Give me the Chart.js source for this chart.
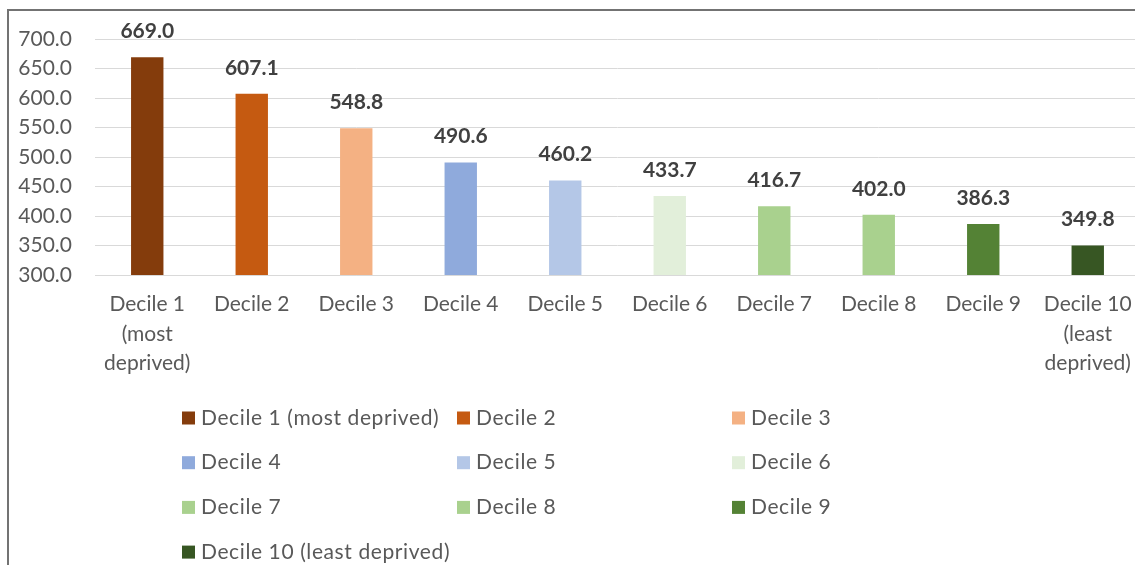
<!DOCTYPE html>
<html>
<head>
<meta charset="utf-8">
<script src="https://cdn.jsdelivr.net/npm/chart.js@4/dist/chart.umd.min.js"></script>
<style>
  html, body { margin: 0; padding: 0; background: #fff; overflow: hidden; }
  #wrap { position: relative; width: 1135px; height: 565px; overflow: hidden; }
  #frame { position: absolute; left: 7px; top: 9px; width: 1200px; height: 600px; border: 2px solid #737373; }
  #chartCanvas { position: absolute; left: 0; top: 0; }
</style>
</head>
<body>
<div id="wrap">
  <div id="frame"></div>
  <canvas id="chartCanvas" width="1150" height="565"></canvas>
</div>
<script>
const categories = [
    ['Decile 1', '(most', 'deprived)'],
    'Decile 2', 'Decile 3', 'Decile 4', 'Decile 5',
    'Decile 6', 'Decile 7', 'Decile 8', 'Decile 9',
    ['Decile 10', '(least', 'deprived)']
];
const legendNames = [
    'Decile 1 (most deprived)', 'Decile 2', 'Decile 3',
    'Decile 4', 'Decile 5', 'Decile 6',
    'Decile 7', 'Decile 8', 'Decile 9',
    'Decile 10 (least deprived)'
];
const values = [669.0, 607.1, 548.8, 490.6, 460.2, 433.7, 416.7, 402.0, 386.3, 349.8];
const colors = ['#843c0c', '#c55a11', '#f4b183', '#8faadc', '#b4c7e7',
                '#e2efda', '#a9d18e', '#a9d18e', '#548235', '#375623'];
const yTicks = [300, 350, 400, 450, 500, 550, 600, 650, 700];

const FONT = 'Lato, "Open Sans", sans-serif';

// value labels above each bar
const barLabels = {
    id: 'barLabels',
    afterDatasetsDraw(chart) {
        const ctx = chart.ctx;
        const meta = chart.getDatasetMeta(0);
        ctx.save();
        ctx.font = 'bold 21px ' + FONT;
        ctx.fillStyle = '#404040';
        ctx.textAlign = 'center';
        ctx.textBaseline = 'middle';
        meta.data.forEach((bar, i) => {
            ctx.fillText(values[i].toFixed(1), bar.x, bar.y - 26);
        });
        ctx.restore();
    }
};

// legend laid out as a 3 column grid like the original
const gridLegend = {
    id: 'gridLegend',
    afterDraw(chart) {
        const ctx = chart.ctx;
        const top = chart.chartArea.bottom + 143;
        ctx.save();
        ctx.font = '21px ' + FONT;
        ctx.letterSpacing = '0.6px';
        ctx.textBaseline = 'middle';
        ctx.textAlign = 'left';
        legendNames.forEach((name, i) => {
            const col = i % 3;
            const row = Math.floor(i / 3);
            const x = 182 + col * 275;
            const y = top + row * 44.7;
            ctx.fillStyle = colors[i];
            ctx.fillRect(x, y - 6.5, 13, 13);
            ctx.fillStyle = '#595959';
            ctx.fillText(name, x + 19, y);
        });
        ctx.restore();
    }
};

const ctx = document.getElementById('chartCanvas').getContext('2d');
const chart = new Chart(ctx, {
    type: 'bar',
    data: {
        labels: categories,
        datasets: [{
            data: values,
            backgroundColor: colors,
            categoryPercentage: 1,
            barPercentage: 0.31
        }]
    },
    options: {
        responsive: false,
        animation: false,
        layout: { padding: { top: 39, right: 10, bottom: 0, left: 0 } },
        plugins: {
            legend: { display: false },
            tooltip: { enabled: false }
        },
        scales: {
            x: {
                grid: { display: false },
                border: { color: '#d9d9d9' },
                ticks: {
                    color: '#595959',
                    font: { family: FONT, size: 21, lineHeight: 1.4 },
                    padding: 7,
                    maxRotation: 0,
                    autoSkip: false
                },
                afterFit(scale) { scale.height = 290; }
            },
            y: {
                min: 300,
                max: 700,
                afterBuildTicks(scale) { scale.ticks = yTicks.map(v => ({ value: v })); },
                grid: { color: '#d9d9d9', drawTicks: false },
                border: { display: false },
                ticks: {
                    color: '#595959',
                    font: { family: FONT, size: 21 },
                    padding: 23,
                    callback: v => v.toFixed(1)
                },
                afterFit(scale) { scale.width = 95; }
            }
        }
    },
    plugins: [barLabels, gridLegend]
});
</script>
</body>
</html>
